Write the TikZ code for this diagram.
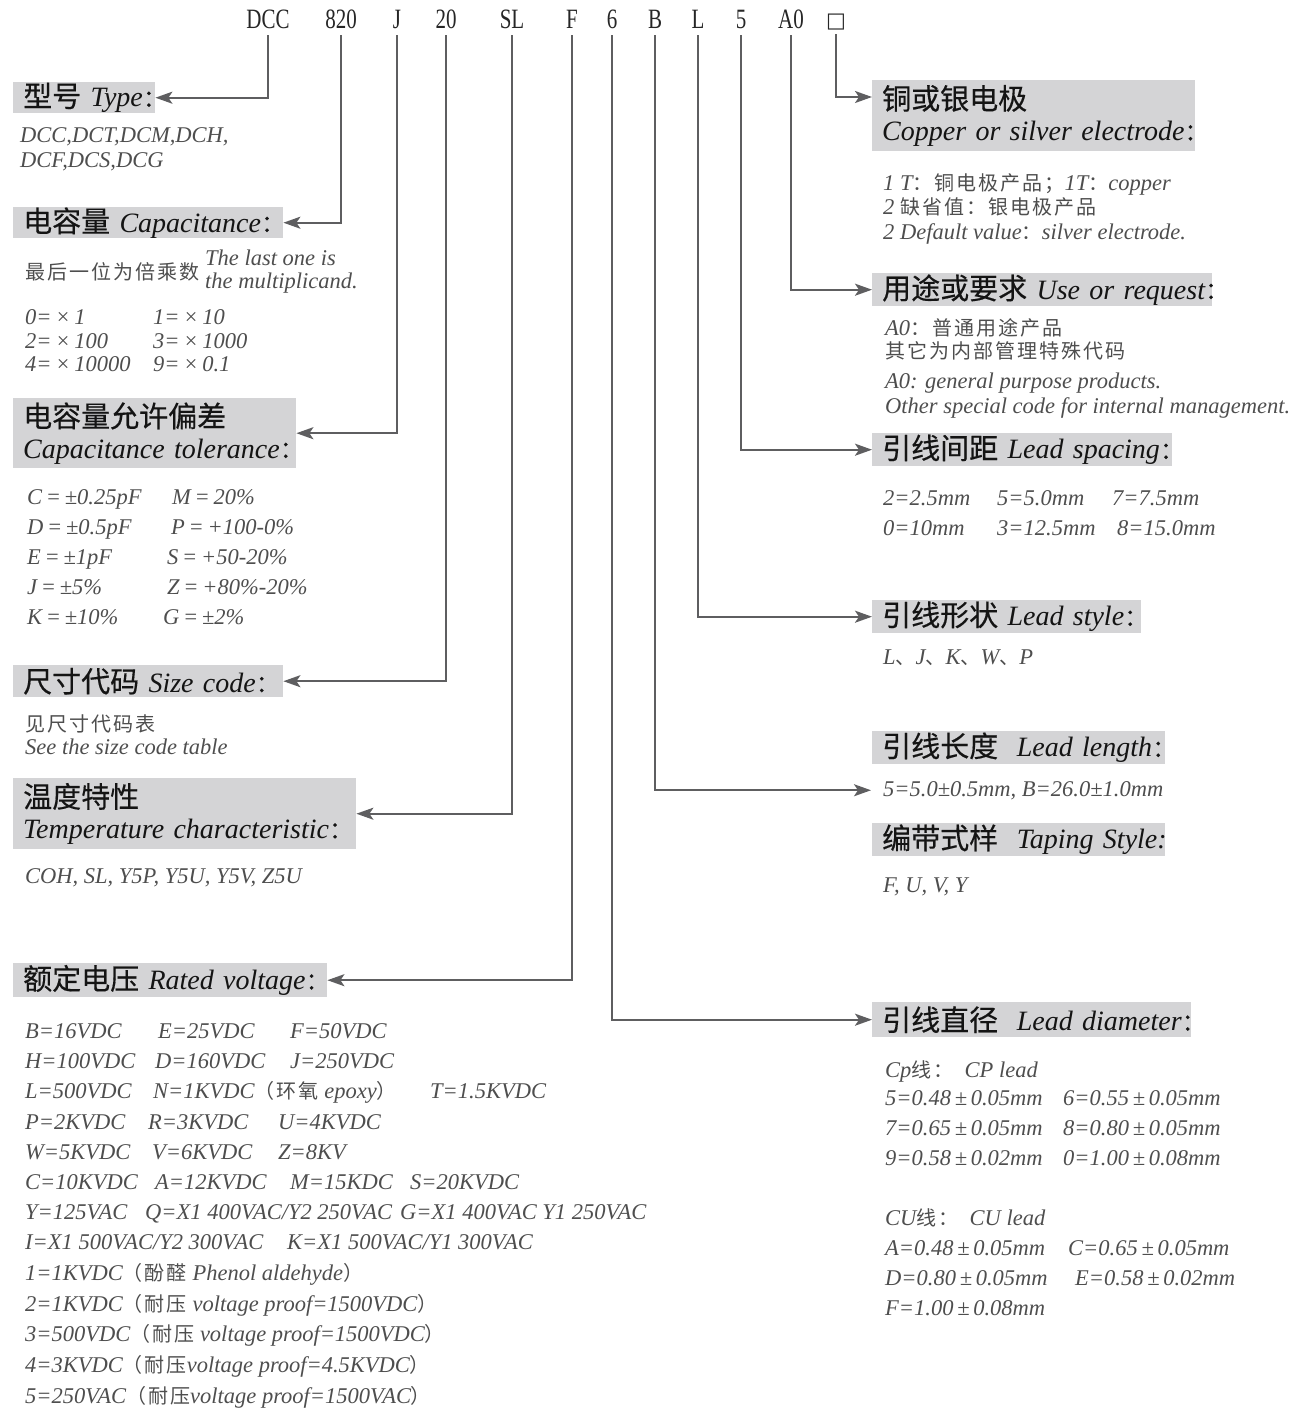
\documentclass[tikz,border=0pt]{standalone}
\usepackage{fontspec}
\usepackage{graphicx}
\usetikzlibrary{arrows.meta}
\setmainfont{Liberation Serif}
\newfontfamily\cjkh[FakeBold=0.4]{Noto Sans CJK SC}
\newfontfamily\cjkb[LetterSpace=10]{Noto Sans CJK SC}
\newfontfamily\symf{DejaVu Sans}
\definecolor{boxgray}{HTML}{D4D4D6}
\definecolor{linegray}{HTML}{5E5E60}
\definecolor{txtgray}{HTML}{4E4E4E}
\newcommand\hc[1]{{\cjkh\fontsize{29}{31}\selectfont #1}}
\newcommand\he[1]{{\itshape\fontsize{28}{31}\selectfont #1}}
\newcommand\cln{\makebox[0.35em][l]{\cjkh\fontsize{24}{31}\selectfont ：}}
\newcommand\zh[1]{{\cjkb\upshape\fontsize{20}{24}\selectfont #1}}
\tikzset{
  hbox/.style={fill=boxgray, anchor=north west, inner xsep=10pt, inner ysep=0pt,
    align=left, font=\fontsize{28}{31}\selectfont, text=black!92},
  codetok/.style={anchor=base, inner xsep=0pt, inner ysep=7pt, text depth=0pt,
    font=\fontsize{28}{28}\selectfont, text=black!85},
  body/.style={anchor=base west, inner sep=0pt, font=\fontsize{22.5}{26}\selectfont\itshape, text=txtgray},
  conn/.style={draw=linegray, line width=2pt, -{Stealth[length=17pt,width=12pt,inset=4pt]}}
}
\begin{document}
\begin{tikzpicture}[x=1pt,y=-1pt]
\useasboundingbox (0,0) rectangle (1296,1409);

% ---- code line ----
\node[codetok] (cDCC) at (268,28) {\scalebox{0.75}[1]{DCC}};
\node[codetok] (c820) at (341,28) {\scalebox{0.75}[1]{820}};
\node[codetok] (cJ)   at (397,28) {\scalebox{0.75}[1]{J}};
\node[codetok] (c20)  at (446,28) {\scalebox{0.75}[1]{20}};
\node[codetok] (cSL)  at (512,28) {\scalebox{0.75}[1]{SL}};
\node[codetok] (cF)   at (572,28) {\scalebox{0.75}[1]{F}};
\node[codetok] (c6)   at (612,28) {\scalebox{0.75}[1]{6}};
\node[codetok] (cB)   at (655,28) {\scalebox{0.75}[1]{B}};
\node[codetok] (cL)   at (698,28) {\scalebox{0.75}[1]{L}};
\node[codetok] (c5)   at (741,28) {\scalebox{0.75}[1]{5}};
\node[codetok] (cA0)  at (791,28) {\scalebox{0.75}[1]{A0}};
\node[codetok] (cSq)  at (836,27) {\symf\fontsize{21}{21}\selectfont □};

% ---- left headings ----
\node[hbox, minimum width=142pt, minimum height=31pt, text width=122pt] (type) at (13,82)
  {\mbox{\hc{型号} \he{Type}\cln}};
\node[hbox, minimum width=270pt, minimum height=31pt, text width=250pt] (cap) at (13,207)
  {\mbox{\hc{电容量} \he{Capacitance}\cln}};
\node[hbox, minimum width=283pt, minimum height=70pt, text width=263pt] (tol) at (13,398)
  {\mbox{\hc{电容量允许偏差}}\\ \mbox{\he{Capacitance tolerance}\cln}};
\node[hbox, minimum width=270pt, minimum height=32pt, text width=250pt] (size) at (13,665)
  {\mbox{\hc{尺寸代码} \he{Size code}\cln}};
\node[hbox, minimum width=343pt, minimum height=71pt, text width=323pt] (temp) at (13,778)
  {\mbox{\hc{温度特性}}\\ \mbox{\he{Temperature characteristic}\cln}};
\node[hbox, minimum width=314pt, minimum height=34pt, text width=294pt] (volt) at (13,963)
  {\mbox{\hc{额定电压} \he{Rated voltage}\cln}};

% ---- right headings ----
\node[hbox, minimum width=323pt, minimum height=71pt, text width=303pt] (copper) at (872,80)
  {\mbox{\hc{铜或银电极}}\\ \mbox{\he{Copper or silver electrode}\cln}};
\node[hbox, minimum width=340pt, minimum height=33pt, text width=320pt] (use) at (872,273)
  {\mbox{\hc{用途或要求} \he{Use or request}\cln}};
\node[hbox, minimum width=300pt, minimum height=33pt, text width=280pt] (spacing) at (872,433)
  {\mbox{\hc{引线间距} \he{Lead spacing}\cln}};
\node[hbox, minimum width=269pt, minimum height=33pt, text width=249pt] (style) at (872,600)
  {\mbox{\hc{引线形状} \he{Lead style}\cln}};
\node[hbox, minimum width=293pt, minimum height=33pt, text width=273pt] (length) at (872,731)
  {\mbox{\hc{引线长度}\ \ \he{Lead length}\cln}};
\node[hbox, minimum width=293pt, minimum height=33pt, text width=273pt] (taping) at (872,823)
  {\mbox{\hc{编带式样}\ \ \he{Taping Style:}}};
\node[hbox, minimum width=319pt, minimum height=35pt, text width=299pt] (diam) at (872,1002)
  {\mbox{\hc{引线直径}\ \ \he{Lead diameter}\cln}};

% ---- left body ----
\node[body] (t1) at (20,142) {DCC,DCT,DCM,DCH,};
\node[body] (t2) at (20,167) {DCF,DCS,DCG};

\node[body] (m0) at (25,279) {\zh{最后一位为倍乘数}};
\node[body] (m1) at (205,265) {The last one is};
\node[body] (m2) at (205,288) {the multiplicand.};
\node[body] (m3) at (25,324) {0=\,×\,1};
\node[body] (m4) at (153,324) {1=\,×\,10};
\node[body] (m5) at (25,348) {2=\,×\,100};
\node[body] (m6) at (153,348) {3=\,×\,1000};
\node[body] (m7) at (25,371) {4=\,×\,10000};
\node[body] (m8) at (153,371) {9=\,×\,0.1};

\node[body] (k1) at (27,504) {C\,=\,±0.25pF};
\node[body] (k2) at (172,504) {M\,=\,20\%};
\node[body] (k3) at (27,534) {D\,=\,±0.5pF};
\node[body] (k4) at (171,534) {P\,=\,+100-0\%};
\node[body] (k5) at (27,564) {E\,=\,±1pF};
\node[body] (k6) at (167,564) {S\,=\,+50-20\%};
\node[body] (k7) at (27,594) {J\,=\,±5\%};
\node[body] (k8) at (167,594) {Z\,=\,+80\%-20\%};
\node[body] (k9) at (27,624) {K\,=\,±10\%};
\node[body] (k10) at (163,624) {G\,=\,±2\%};

\node[body] (s1) at (25,731) {\zh{见尺寸代码表}};
\node[body] (s2) at (25,754) {See the size code table};

\node[body] (e1) at (25,883) {COH, SL, Y5P, Y5U, Y5V, Z5U};

\node[body] (v1a) at (25,1038) {B=16VDC};
\node[body] (v1b) at (158,1038) {E=25VDC};
\node[body] (v1c) at (290,1038) {F=50VDC};
\node[body] (v2a) at (25,1068) {H=100VDC};
\node[body] (v2b) at (155,1068) {D=160VDC};
\node[body] (v2c) at (290,1068) {J=250VDC};
\node[body] (v3a) at (25,1098) {L=500VDC};
\node[body] (v3b) at (153,1098) {N=1KVDC\zh{（环氧} epoxy\zh{）}};
\node[body] (v3c) at (430,1098) {T=1.5KVDC};
\node[body] (v4a) at (25,1129) {P=2KVDC};
\node[body] (v4b) at (148,1129) {R=3KVDC};
\node[body] (v4c) at (278,1129) {U=4KVDC};
\node[body] (v5a) at (25,1159) {W=5KVDC};
\node[body] (v5b) at (152,1159) {V=6KVDC};
\node[body] (v5c) at (278,1159) {Z=8KV};
\node[body] (v6a) at (25,1189) {C=10KVDC};
\node[body] (v6b) at (155,1189) {A=12KVDC};
\node[body] (v6c) at (290,1189) {M=15KDC};
\node[body] (v6d) at (410,1189) {S=20KVDC};
\node[body] (v7a) at (25,1219) {Y=125VAC};
\node[body] (v7b) at (145,1219) {Q=X1 400VAC/Y2 250VAC};
\node[body] (v7c) at (400,1219) {G=X1 400VAC Y1 250VAC};
\node[body] (v8a) at (25,1249) {I=X1 500VAC/Y2 300VAC};
\node[body] (v8b) at (287,1249) {K=X1 500VAC/Y1 300VAC};
\node[body] (v9)  at (25,1280) {1=1KVDC\zh{（酚醛} Phenol aldehyde\zh{）}};
\node[body] (v10) at (25,1311) {2=1KVDC\zh{（耐压} voltage proof=1500VDC\zh{）}};
\node[body] (v11) at (25,1341) {3=500VDC\zh{（耐压} voltage proof=1500VDC\zh{）}};
\node[body] (v12) at (25,1372) {4=3KVDC\zh{（耐压}voltage proof=4.5KVDC\zh{）}};
\node[body] (v13) at (25,1403) {5=250VAC\zh{（耐压}voltage proof=1500VAC\zh{）}};

% ---- right body ----
\node[body] (r1) at (883,190) {1 T\zh{：铜电极产品；}1T\zh{：}copper};
\node[body] (r2) at (883,214) {2 \zh{缺省值：银电极产品}};
\node[body] (r3) at (883,239) {2 Default value\zh{：}silver electrode.};

\node[body] (u1) at (885,335) {A0\zh{：普通用途产品}};
\node[body] (u2) at (885,358) {\zh{其它为内部管理特殊代码}};
\node[body] (u3) at (885,388) {A0: general purpose products.};
\node[body] (u4) at (885,413) {Other special code for internal management.};

\node[body] (p1) at (883,505) {2=2.5mm};
\node[body] (p2) at (997,505) {5=5.0mm};
\node[body] (p3) at (1112,505) {7=7.5mm};
\node[body] (p4) at (883,535) {0=10mm};
\node[body] (p5) at (997,535) {3=12.5mm};
\node[body] (p6) at (1117,535) {8=15.0mm};

\node[body] (ls) at (883,664) {L\zh{、}J\zh{、}K\zh{、}W\zh{、}P};

\node[body, inner xsep=12pt] (lenval) at (871,796) {5=5.0±0.5mm, B=26.0±1.0mm};

\node[body] (tp) at (883,892) {F, U, V, Y};

\node[body] (d0) at (885,1077) {Cp\zh{线：}\ \ CP lead};
\node[body] (d1) at (885,1105) {5=0.48\,±\,0.05mm};
\node[body] (d2) at (1063,1105) {6=0.55\,±\,0.05mm};
\node[body] (d3) at (885,1135) {7=0.65\,±\,0.05mm};
\node[body] (d4) at (1063,1135) {8=0.80\,±\,0.05mm};
\node[body] (d5) at (885,1165) {9=0.58\,±\,0.02mm};
\node[body] (d6) at (1063,1165) {0=1.00\,±\,0.08mm};
\node[body] (d7) at (885,1225) {CU\zh{线：}\ \ CU lead};
\node[body] (d8) at (885,1255) {A=0.48\,±\,0.05mm};
\node[body] (d9) at (1068,1255) {C=0.65\,±\,0.05mm};
\node[body] (d10) at (885,1285) {D=0.80\,±\,0.05mm};
\node[body] (d11) at (1075,1285) {E=0.58\,±\,0.02mm};
\node[body] (d12) at (885,1315) {F=1.00\,±\,0.08mm};

% ---- connectors ----
\draw[conn] (cDCC.south) |- (type.east);
\draw[conn] (c820.south) |- (cap.east);
\draw[conn] (cJ.south) |- (tol.east);
\draw[conn] (c20.south) |- (size.east);
\draw[conn] (cSL.south) |- (temp.east);
\draw[conn] (cF.south) |- (volt.east);
\draw[conn] (c6.south) |- (diam.west);
\draw[conn] (cB.south) |- (lenval.west);
\draw[conn] (cL.south) |- (style.west);
\draw[conn] (c5.south) |- (spacing.west);
\draw[conn] (cA0.south) |- (use.west);
\draw[conn] (cSq.south) |- ([yshift=-17pt]copper.north west);
\end{tikzpicture}
\end{document}
